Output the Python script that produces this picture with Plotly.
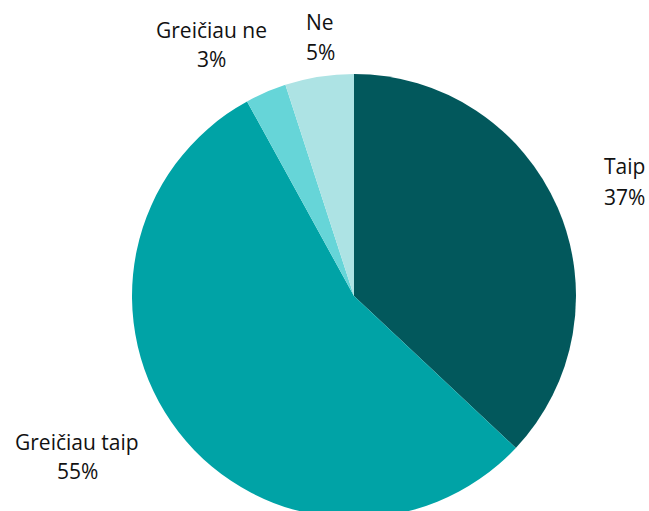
import plotly.graph_objects as go

categories = ["Taip", "Greičiau taip", "Greičiau ne", "Ne"]
values = [37, 55, 3, 5]
colors = ["#02585C", "#00A3A6", "#66D5D8", "#ADE3E4"]
# label centers in pixel coords (name line, percent line)
label_pos = {
    "Taip": (624, 166, 197),
    "Greičiau taip": (77, 442, 471),
    "Greičiau ne": (211, 30, 59),
    "Ne": (320, 22, 52),
}

W, H = 649, 520
L, R, T, B = 132, 73, 74, 2
PW, PH = W - L - R, H - T - B


def px(x):
    return (x - L) / PW


def py(y):
    return (H - B - y) / PH


fig = go.Figure(go.Pie(
    labels=categories, values=values, sort=False, direction="clockwise",
    rotation=0, marker=dict(colors=colors, line=dict(width=0)),
    textinfo="none", hoverinfo="label+percent", showlegend=False,
))

total = sum(values)
anns = []
font = dict(family="Open Sans, sans-serif", size=21, color="#111111")
for c, v in zip(categories, values):
    x, y1, y2 = label_pos[c]
    anns.append(dict(x=px(x), y=py(y1), xref="paper", yref="paper", text=c,
                     showarrow=False, font=font, xanchor="center", yanchor="middle"))
    anns.append(dict(x=px(x), y=py(y2), xref="paper", yref="paper",
                     text=f"{round(v / total * 100)}%",
                     showarrow=False, font=font, xanchor="center", yanchor="middle"))

fig.update_layout(
    width=W, height=H, margin=dict(l=L, r=R, t=T, b=B),
    paper_bgcolor="white", plot_bgcolor="white", annotations=anns,
)

fig.write_html(
    "out.html",
    config={"displayModeBar": False},
    post_script="document.body.style.margin='0';document.documentElement.style.overflow='hidden';document.body.style.overflow='hidden';",
)
